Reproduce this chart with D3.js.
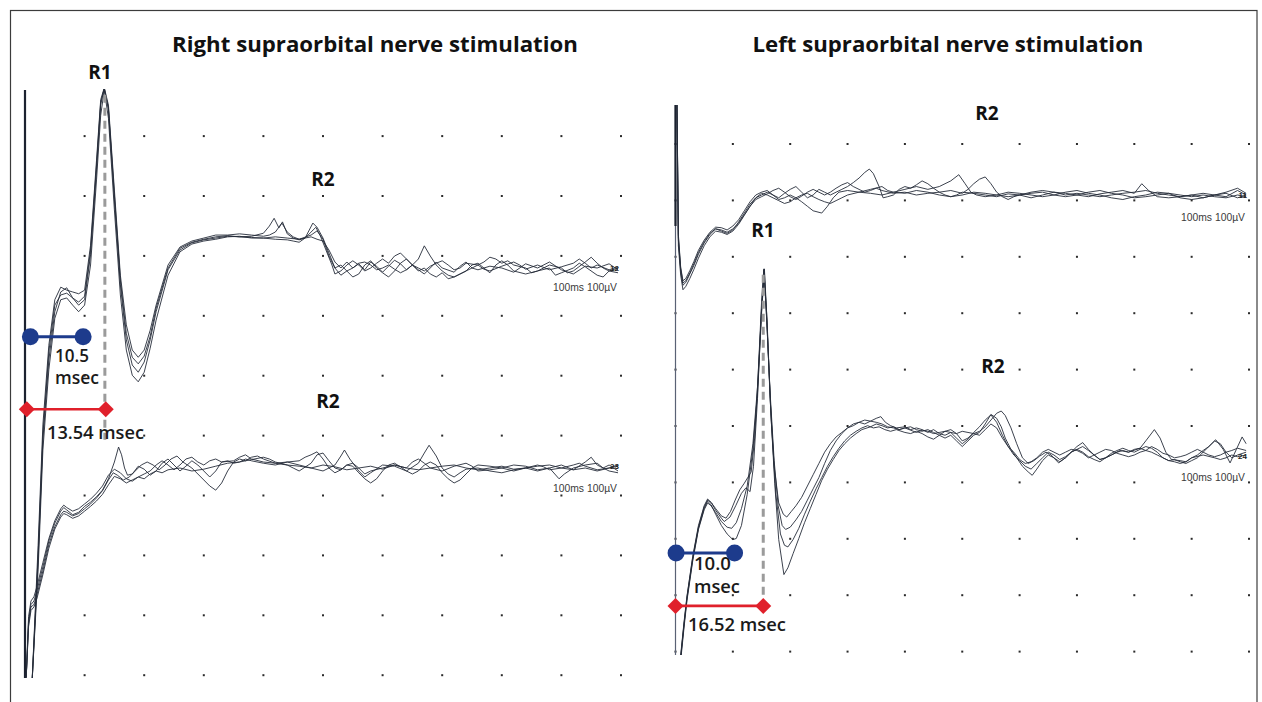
<!DOCTYPE html>
<html><head><meta charset="utf-8">
<script src="https://cdn.jsdelivr.net/npm/d3@7/dist/d3.min.js"></script>
<style>body{margin:0;background:#fff;}svg{display:block;}</style>
</head><body>
<svg id="chart" width="1262" height="702"></svg>
<script>
// ---------- DATA (time in ms, amplitude in µV; 10 ms/div, 100 µV/div) ----------
const panelTitles = ["Right supraorbital nerve stimulation", "Left supraorbital nerve stimulation"];
const sweepLabel = "100ms 100µV";
const responseLabels = [["R1","R2","R2"],["R2","R1","R2"]];
const traceTags = [["12","23"],["11","24"]];
const onsetLabels = [["10.5","msec"],["10.0","msec"]];
const latencyLabels = ["13.54 msec","16.52 msec"];
// annotation times (ms)
const onsetSpan = [[0.9, 9.75],[0.1, 10.3]];
const latencySpan = [[0.3, 13.55],[0.0, 15.3]];
const peakMarker = [13.4, 15.3];

// Right stimulation, ipsilateral (upper) channel
const LU1=[[1.2,-690],[2.2,-488],[3,-287],[4,-154],[5,-73],[6,-40],[7,-33],[8,-50],[9,-62],[10,-53],[11,22],[12,164],[12.7,272],[13.3,301],[14,264],[15,114],[16,-28],[17,-120],[18,-162],[19,-174],[20,-157],[21,-120],[22,-73],[24,-3],[26,30],[28,42],[30,47],[32,50],[34,53],[36,52],[38,53],[40,58],[41,70],[41.8,83],[42.6,67],[43.2,77],[44,57],[45,50],[46,47],[47,50],[48,52],[49,48],[50,45],[51,30],[52,10],[53,0],[54,10],[55,0],[56,7],[57,-3],[58,10],[59,3],[60,-7],[61,3],[62,13],[63,7],[64,-3],[65,5],[66,-3],[67,-10],[68,0],[69,10],[70,0],[72,-7],[73,3],[74,10],[75,0],[76,-3],[78,3],[80,0],[82,-7],[84,7],[86,0],[88,10],[90,-3],[92,-10],[94,3],[96,0],[98,7],[99.5,-3]];
const LU2=[[1.2,-688],[2.2,-504],[3,-304],[4,-170],[5,-84],[6,-53],[7,-50],[8,-62],[9,-73],[10,-62],[11,5],[12,147],[12.7,255],[13.3,297],[14,250],[15,97],[16,-45],[17,-137],[18,-179],[19,-190],[20,-174],[21,-134],[22,-87],[24,-12],[26,27],[28,40],[30,45],[32,48],[34,52],[36,53],[38,50],[40,50],[42,48],[44,47],[45,45],[46,43],[47,50],[48.3,75],[49,68],[50,50],[51,25],[52,0],[53,-12],[54,-5],[55,-15],[56,-10],[57,5],[58,12],[59,0],[60,-8],[61,-15],[62,-5],[63,8],[64,15],[65,5],[66,-5],[67,0],[68,-10],[69,-15],[70,-8],[71,-18],[72,-15],[74,-5],[75,5],[76,8],[77,0],[78,-8],[79,5],[80,12],[81,5],[82,-5],[84,-10],[86,-5],[88,0],[89,-12],[90,-8],[92,0],[93,8],[94,2],[96,-12],[97,-15],[98,-5],[99.5,-8]];
const LU3=[[1.2,-688],[2.2,-463],[3,-262],[4,-129],[5,-53],[6,-32],[7,-37],[8,-40],[9,-43],[10,-37],[11,38],[12,180],[12.7,281],[13.3,301],[14,272],[15,130],[16,-12],[17,-95],[18,-137],[19,-149],[20,-137],[21,-104],[22,-62],[24,5],[26,35],[28,45],[30,50],[32,55],[34,55],[36,57],[38,55],[40,53],[41,55],[42,60],[43.1,75],[44,60],[45,52],[46,48],[47,50],[48,60],[48.8,68],[49.5,55],[50.5,30],[51.5,5],[52,-10],[53,-5],[54,5],[55,12],[56,5],[57,-5],[58,0],[59,8],[60,15],[61,8],[62,20],[63,25],[64,15],[65,5],[66,15],[67,37],[68,20],[69,5],[70,-5],[71,-12],[72,-15],[73,-10],[74,-5],[75,0],[76,5],[77,10],[78,18],[79,15],[80,8],[81,12],[82,5],[84,0],[85,-8],[86,-5],[88,5],[90,0],[91,-8],[92,-5],[94,10],[95,18],[96,8],[97,0],[98,-5],[99.5,0]];
const LU4=[[1.2,-688],[2.2,-479],[3,-279],[4,-140],[5,-62],[6,-45],[7,-42],[8,-50],[9,-57],[10,-47],[11,30],[12,172],[12.7,277],[13.3,299],[14,267],[15,122],[16,-20],[17,-109],[18,-149],[19,-160],[20,-147],[21,-114],[22,-67],[24,0],[26,33],[28,43],[30,48],[32,52],[34,54],[36,52],[38,51],[40,50],[42,52],[44,50],[46,48],[48,55],[49,62],[50,48],[51,20],[52,0],[53,5],[54,-5],[55,0],[56,8],[57,10],[58,5],[59,-3],[60,0],[61,5],[62,-2],[63,-8],[64,-3],[65,5],[66,0],[67,-5],[68,3],[69,8],[70,12],[71,5],[72,-3],[73,0],[74,8],[76,5],[77,-2],[78,-5],[80,3],[82,10],[83,5],[84,-2],[86,5],[88,-3],[90,2],[92,8],[93,15],[94,8],[95,0],[96,5],[98,-3],[99.5,2]];
// Right stimulation, contralateral (lower) channel
const LL1=[[0.2,-350],[0.6,-255],[1,-228],[1.5,-222],[2,-205],[3,-165],[4,-122],[5,-92],[6,-72],[6.5,-66],[7,-70],[8,-78],[9,-74],[10,-64],[11,-57],[12,-48],[13,-37],[14,-18],[15,10],[15.7,35],[16.2,22],[16.7,0],[17.2,-12],[18,-10],[19,3],[20,-2],[21,-12],[22,-5],[23,8],[24,15],[25,5],[26,-5],[27,3],[28,12],[29,5],[30,-5],[31,-15],[32,-5],[33,10],[34,12],[35,8],[36,10],[37,15],[38,12],[40,8],[42,5],[44,10],[46,5],[48,0],[50,-5],[52,5],[53,20],[53.6,30],[54.5,15],[56,-5],[57,-15],[58,-8],[60,5],[62,3],[64,-5],[66,8],[67,25],[67.8,38],[69,20],[70,0],[71,-10],[72,-15],[73,-8],[74,-2],[76,0],[78,-5],[80,-8],[82,-3],[84,0],[86,-5],[88,0],[90,5],[92,-3],[94,10],[95,18],[96,5],[98,-5],[99.5,-8]];
const LL2=[[0.2,-350],[0.6,-260],[1,-232],[1.5,-228],[2,-212],[3,-172],[4,-128],[5,-98],[6,-78],[6.5,-72],[7,-74],[8,-80],[9,-76],[10,-68],[11,-60],[12,-50],[13,-38],[14,-20],[14.8,-8],[15.5,-12],[16.5,-20],[17.5,-15],[18.5,-5],[19.5,5],[20.5,10],[21.5,5],[22.5,-3],[23.5,5],[24.5,15],[25.5,20],[26.5,10],[28,0],[29,-10],[30,-20],[31,-30],[32,-37],[33,-25],[34,-5],[35,10],[36,15],[37,12],[38,18],[39,20],[40,15],[42,8],[44,10],[46,12],[47,18],[48,22],[49,27],[50,15],[51,0],[52,-8],[53,-3],[54,5],[55,8],[56,0],[57,-10],[58,-5],[60,0],[62,5],[64,0],[65,10],[66,15],[67,8],[68,0],[70,-5],[72,3],[74,8],[75,3],[76,-5],[78,-3],[80,0],[82,5],[84,3],[86,-3],[88,0],[89.6,-18],[90.5,-10],[92,0],[94,5],[96,8],[97,0],[98,5],[99.5,-5]];
const LL3=[[0.2,-350],[0.6,-248],[1,-222],[1.5,-215],[2,-198],[3,-158],[4,-118],[5,-88],[6,-68],[6.5,-62],[7,-66],[8,-72],[9,-68],[10,-60],[11,-52],[12,-42],[13,-30],[14,-12],[15,-2],[16,-8],[17,-18],[18,-22],[19,-15],[20,-10],[21,-5],[22,5],[23,12],[24,5],[25,-3],[26,5],[27,15],[28,18],[29,10],[30,5],[31,12],[32,15],[33,10],[35,12],[36,18],[37,22],[38,15],[40,10],[42,8],[44,5],[45,0],[46,-5],[48,8],[49,22],[50,25],[51,12],[52,0],[53,-3],[54,5],[55,3],[56,-8],[57,-18],[58,-25],[59,-18],[60,-5],[61,5],[62,8],[63,2],[64,-5],[65,-10],[66,-5],[67,5],[68,10],[69,5],[70,-8],[71,-18],[72,-25],[73,-20],[74,-10],[75,0],[76,5],[78,3],[80,0],[82,-5],[84,0],[86,5],[87,2],[88,-3],[90,0],[92,5],[93,8],[94,3],[96,-3],[98,0],[99.5,5]];
const LL4=[[0.2,-350],[0.6,-265],[1,-238],[1.5,-232],[2,-218],[3,-178],[4,-134],[5,-102],[6,-82],[6.5,-76],[7,-78],[8,-84],[9,-80],[10,-72],[11,-64],[12,-55],[13,-44],[14,-28],[15,-14],[16,-18],[17,-25],[18,-20],[19,-15],[20,-18],[21,-10],[22,-5],[23,-8],[24,-3],[26,0],[28,-5],[30,-2],[32,3],[34,8],[36,10],[38,14],[40,18],[41,15],[42,10],[44,5],[46,3],[48,0],[50,5],[52,2],[54,-3],[56,0],[58,3],[60,-2],[62,5],[64,0],[66,-3],[68,0],[70,3],[72,5],[74,0],[76,-3],[78,0],[80,3],[82,-2],[84,0],[86,3],[88,5],[90,0],[92,-3],[94,0],[96,-5],[98,0],[99.5,3]];
// Left stimulation, contralateral (upper) channel
const RU1=[[0,300],[0.25,170],[0.5,-80],[0.9,-135],[1.3,-160],[1.8,-155],[2.5,-140],[3.2,-125],[4,-105],[5,-85],[6,-70],[7,-60],[8,-62],[9,-66],[10,-60],[11,-50],[12,-35],[13,-20],[14,-5],[15,0],[16,5],[17,0],[18,-5],[19,3],[20,10],[21,15],[22,5],[23,-5],[24,0],[25,10],[26,5],[27,0],[28,5],[29,10],[30,15],[31,22],[32,30],[33,40],[33.8,46],[34.5,38],[35.5,15],[36.2,-5],[37,-3],[38,0],[39,10],[40,15],[41,12],[42,18],[43,25],[44,20],[45,12],[46,5],[47,0],[48,-3],[49,0],[50,5],[52,3],[54,0],[56,-3],[58,2],[60,0],[62,-5],[64,0],[66,5],[68,3],[70,0],[72,-3],[74,2],[76,5],[78,8],[80,3],[81.3,20],[82.5,8],[84,-3],[86,-5],[88,-3],[90,0],[92,-5],[94,0],[96,5],[98,12],[99.5,3]];
const RU2=[[0,300],[0.25,175],[0.5,-70],[0.9,-128],[1.3,-152],[1.8,-148],[2.5,-134],[3.2,-118],[4,-98],[5,-80],[6,-66],[7,-57],[8,-58],[9,-62],[10,-55],[11,-44],[12,-28],[13,-12],[14,0],[15,5],[16,8],[17,0],[18,-8],[19,-5],[20,0],[21,-5],[22,-12],[23,-20],[24,-28],[25.5,-32],[26.5,-20],[27.5,-5],[28.5,5],[30,8],[32,5],[34,10],[36,15],[37,8],[38,5],[40,10],[42,15],[44,10],[46,15],[48,25],[49.4,36],[50.5,20],[51.5,5],[52.5,0],[54,-3],[56,0],[58,5],[60,3],[62,0],[64,-3],[66,0],[68,5],[70,8],[72,3],[74,0],[76,-5],[78,-8],[80,-3],[82,0],[84,5],[86,3],[88,-5],[90,-8],[92,-5],[94,0],[96,3],[98,-5],[99.5,0]];
const RU3=[[0,300],[0.25,160],[0.5,-90],[0.9,-142],[1.3,-168],[1.8,-162],[2.5,-148],[3.2,-132],[4,-112],[5,-90],[6,-74],[7,-64],[8,-66],[9,-70],[10,-64],[11,-52],[12,-36],[13,-20],[14,-8],[15,-3],[16,2],[17,8],[18,12],[19,5],[20,-3],[21,-8],[22,-2],[23,5],[24,10],[25,5],[26,0],[27,5],[28,12],[29,18],[30,22],[31,15],[32,10],[33,5],[34,8],[35,12],[36,8],[38,3],[40,5],[42,0],[44,3],[46,5],[48,8],[50,3],[51,10],[52,20],[53,28],[54,32],[55,20],[56,5],[57,-3],[58,-8],[59,-3],[60,0],[62,3],[64,5],[66,0],[68,-3],[70,0],[72,5],[74,8],[76,3],[78,0],[80,-5],[82,-3],[84,0],[86,3],[88,0],[90,-3],[92,0],[94,-3],[96,-5],[98,0],[99.5,-3]];
const RU4=[[0,300],[0.25,168],[0.5,-75],[0.9,-130],[1.3,-156],[1.8,-152],[2.5,-138],[3.2,-122],[4,-102],[5,-83],[6,-68],[7,-60],[8,-64],[9,-68],[10,-62],[11,-48],[12,-32],[13,-16],[14,-5],[15,3],[16,0],[17,-5],[18,-10],[19,-15],[20,-12],[21,-5],[22,0],[23,3],[24,-3],[25,-8],[26,-12],[27,-15],[28,-10],[29,-5],[30,0],[32,5],[34,3],[36,0],[38,5],[40,3],[42,8],[44,5],[46,0],[48,-3],[50,0],[52,5],[54,3],[56,0],[58,-3],[60,0],[62,5],[64,8],[66,5],[68,0],[70,3],[72,0],[74,-3],[76,0],[78,3],[80,5],[82,8],[84,3],[86,0],[88,-3],[90,0],[92,3],[94,0],[96,-3],[98,8],[99.5,0]];
// Left stimulation, ipsilateral (lower) channel
const RL1=[[0.5,-400],[1,-350],[1.5,-300],[2,-255],[3,-185],[4,-130],[5,-95],[5.6,-82],[6.2,-88],[7,-105],[8,-125],[9,-140],[10,-150],[10.6,-148],[11.5,-125],[12.5,-70],[13.5,10],[14.3,110],[15,250],[15.5,330],[16,230],[16.6,80],[17.3,-50],[18,-150],[18.9,-212],[19.6,-200],[20.5,-175],[21.5,-148],[22.5,-120],[23.5,-95],[24.5,-70],[25.5,-45],[26.5,-25],[27.5,-8],[28.5,8],[29.5,20],[30.5,30],[31.5,38],[32.5,45],[34,50],[35,55],[36,52],[37,48],[38,50],[39,45],[40,48],[41,50],[42,45],[43,42],[44,45],[45,40],[46,35],[47,30],[48,35],[49,25],[50,15],[51,25],[52,35],[53,40],[54,55],[55,72],[56,65],[56.8,50],[57.5,30],[58.5,10],[59.5,-5],[60.5,-20],[61.5,-30],[62.2,-36],[63,-25],[64,-10],[65,0],[66,-5],[67,-12],[68,-5],[69,5],[70,10],[71,15],[72,8],[73,0],[74,-8],[75,-5],[76,0],[77,5],[78,8],[79,5],[80,10],[81,12],[82,8],[83,5],[84,0],[85,-5],[86,-10],[87,-12],[88,-15],[89,-12],[90,-5],[91,0],[92,8],[93,15],[94,25],[95,20],[96,5],[97,-5],[98,0],[99.5,5]];
const RL2=[[0.5,-400],[1,-345],[1.5,-295],[2,-250],[3,-180],[4,-125],[5,-90],[5.6,-78],[6.3,-85],[7,-98],[8,-112],[8.5,-118],[9.5,-110],[10.5,-90],[11.5,-68],[12.3,-58],[13,-65],[13.6,-20],[14.3,100],[15,260],[15.4,328],[15.9,250],[16.5,100],[17.2,-20],[18,-85],[18.8,-105],[19.4,-110],[20.2,-100],[21,-90],[22,-75],[23,-55],[24,-35],[25,-15],[26,5],[27,20],[28,32],[29,40],[30,48],[31,52],[32,58],[33,62],[34,60],[35,58],[36,55],[37,50],[38,48],[39,45],[40,48],[41,44],[42,40],[43,44],[44,42],[45,38],[46,40],[47,42],[48,40],[49,38],[50,42],[51,40],[52,38],[53,42],[54,50],[55,62],[56,74],[56.8,78],[57.5,70],[58.5,48],[59.5,20],[60.5,-5],[61.5,-15],[62.5,-10],[63.5,-2],[64.6,5],[65.5,0],[66.8,-14],[68,-5],[69,5],[70,15],[71,22],[72,10],[73,0],[74,-8],[75,-5],[76,0],[77.5,8],[79,5],[81,12],[82,25],[83.5,45],[84.5,30],[85.5,5],[86.5,-8],[88,-10],[89,-12],[90,-5],[92,0],[94,-5],[95,-8],[96,-5],[97,0],[98,-3],[99.5,0]];
const RL3=[[0.5,-400],[1,-355],[1.5,-305],[2,-258],[3,-188],[4,-132],[5,-97],[5.6,-85],[6.2,-90],[7,-102],[8,-118],[9,-128],[9.8,-130],[10.6,-120],[11.5,-95],[12.5,-55],[13.5,20],[14.3,120],[15,255],[15.5,325],[16,220],[16.7,60],[17.5,-70],[18.3,-140],[19,-160],[19.6,-163],[20.5,-150],[21.5,-130],[22.5,-105],[23.5,-82],[24.5,-60],[25.5,-40],[26.5,-20],[27.5,-3],[28.5,12],[29.5,25],[30.5,35],[31.5,42],[32.5,48],[33.5,52],[34.5,48],[35.5,50],[36.5,45],[37.5,42],[38.5,45],[40,40],[41,38],[42,42],[43,38],[44,32],[45,28],[46,35],[47,42],[48,45],[49,38],[50,25],[51,30],[52,40],[53,50],[54,62],[55,71],[56,58],[57,35],[58,15],[59,0],[60,-10],[61,-20],[62,-25],[63,-15],[64,-5],[65,5],[66,0],[67,-8],[68,-3],[69,5],[70,10],[71,5],[72,-3],[73,-8],[74,-12],[75,-5],[76,3],[77,8],[78,12],[79,8],[80,5],[81,10],[82,15],[83,12],[84,5],[85,-5],[86,-10],[87,-8],[88,-12],[89,-15],[90,-10],[91,-5],[92,5],[93,15],[94.2,27],[95.5,10],[96.7,-14],[97.8,10],[98.8,32],[99.5,20]];
const RL4=[[0.5,-400],[1,-348],[1.5,-298],[2,-252],[3,-182],[4,-128],[5,-92],[5.6,-80],[6.2,-84],[7,-95],[8,-108],[8.8,-112],[9.6,-100],[10.4,-80],[11.2,-62],[12,-50],[12.6,-40],[13.2,-30],[13.8,30],[14.4,140],[15,270],[15.4,330],[15.9,240],[16.5,110],[17.2,-10],[17.9,-90],[18.6,-125],[19.2,-132],[20,-128],[21,-115],[22,-100],[23,-80],[24,-60],[25,-40],[26,-15],[27,8],[28,25],[29,38],[30,48],[31,55],[32,58],[33,55],[34,60],[35,65],[35.8,68],[36.6,58],[37.5,52],[38.5,48],[40,50],[41,45],[42,48],[43,45],[44,40],[45,45],[46,38],[47,35],[48,40],[49,30],[50,20],[51,28],[52,38],[53,35],[54,45],[55,55],[56,48],[57,30],[58,15],[59,5],[60,-8],[61,-15],[62,-12],[63,-5],[64,5],[65,10],[66,5],[67,0],[68,5],[69,10],[70,8],[71,3],[72,-5],[73,0],[74,5],[75,10],[76,8],[77,3],[78,0],[79,-3],[80,0],[81,5],[82,8],[83,15],[84,10],[85,3],[86,0],[87,-5],[88,-3],[89,0],[90,5],[91,10],[92,5],[93,0],[94,-3],[95,0],[96,5],[97,8],[98,12],[99.5,8]];

// ---------- LAYOUT ----------
const panels = [
  {title: panelTitles[0], titleX: 375, titleW: 406, x0: 25, x1: 621, gTop: 76.2, gBot: 675.2, clipTop: 89, clipBot: 678,
   stim: [90, 678, 90],
   channels: [{base: 268, traces: [LU1,LU2,LU3,LU4], sweepY: 291, tagY: 271},
              {base: 468, traces: [LL1,LL2,LL3,LL4], sweepY: 492, tagY: 469}],
   labels: [[100,79],[323,186],[328,408]],
   onsetDiv: 4.35, latencyDiv: 5.56, peakDiv: [0.31, 6.07],
   onsetText: [[55,362,34],[55,384,44]], latencyText: [47,439,97]},
  {title: panelTitles[1], titleX: 948, titleW: 391, x0: 675.5, x1: 1249, gTop: 87.6, gBot: 651.6, clipTop: 105, clipBot: 655,
   stim: [105, 655, 226],
   channels: [{base: 195, traces: [RU1,RU2,RU3,RU4], sweepY: 221, tagY: 198},
              {base: 455, traces: [RL1,RL2,RL3,RL4], sweepY: 481, tagY: 459}],
   labels: [[987,120],[763,237],[993,373]],
   onsetDiv: 8.25, latencyDiv: 9.19, peakDiv: [3.32, 9.05],
   onsetText: [[694,570,37],[694,593,46]], latencyText: [688,631,98]}
];

const FONT = "'Open Sans','Noto Sans',sans-serif";
const svg = d3.select("#chart");
svg.append("rect").attr("width",1262).attr("height",702).attr("fill","#fff");
svg.append("rect").attr("x",10.5).attr("y",10.5).attr("width",1246.5).attr("height",720)
   .attr("fill","none").attr("stroke","#3c3c3c").attr("stroke-width",1.2);

function fit(sel, w){
  const n = sel.node(); const L = n.getComputedTextLength();
  if (L > 0) sel.attr("font-size", parseFloat(sel.attr("font-size")) * w / L);
  return sel;
}

panels.forEach((p, pi) => {
  const x = d3.scaleLinear().domain([0,100]).range([p.x0, p.x1]);
  const gy = d3.scaleLinear().domain([0,10]).range([p.gTop, p.gBot]);
  const divPx = (p.gBot - p.gTop) / 10;

  // title
  fit(svg.append("text").attr("x", p.titleX).attr("y", 52).attr("text-anchor","middle")
     .attr("font-family", FONT).attr("font-weight", 700).attr("font-size", 20).attr("fill","#111")
     .text(p.title), p.titleW);

  // grid dots
  const dots = [];
  for (let k = 0; k <= 10; k++) for (let j = 1; j <= 10; j++) dots.push([k*10, j]);
  svg.append("g").selectAll("rect").data(dots).join("rect")
     .attr("x", d => x(d[0]) - 1).attr("y", d => gy(d[1]) - 1)
     .attr("width", 2).attr("height", 2).attr("fill", "#2b2b2b");

  // stimulus marker line
  svg.append("line").attr("x1", x(0)).attr("x2", x(0)).attr("y1", p.stim[0]).attr("y2", p.stim[1])
     .attr("stroke", "#5a6275").attr("stroke-width", 1.2);
  svg.append("line").attr("x1", x(0)).attr("x2", x(0)).attr("y1", p.stim[0]).attr("y2", p.stim[0] === p.stim[2] ? p.stim[1] : p.stim[2])
     .attr("stroke", "#1c2230").attr("stroke-width", 2.2);

  // clip
  const cid = "clip" + pi;
  svg.append("clipPath").attr("id", cid).append("rect")
     .attr("x", x(0) - 2).attr("y", p.clipTop).attr("width", x(100) - x(0) + 6).attr("height", p.clipBot - p.clipTop);
  const tg = svg.append("g").attr("clip-path", `url(#${cid})`);

  p.channels.forEach((c, ci) => {
    const y = d3.scaleLinear().domain([0, 100]).range([c.base, c.base - divPx]);
    const line = d3.line().x(d => x(d[0])).y(d => y(d[1]));
    tg.selectAll(null).data(c.traces).join("path")
      .attr("d", line).attr("fill", "none").attr("stroke", "#262c3a")
      .attr("stroke-width", 0.9).attr("stroke-linejoin", "round");
    // sweep label & trace tag
    svg.append("text").attr("x", x(100) - 4).attr("y", c.sweepY).attr("text-anchor", "end")
       .attr("font-family", "'Liberation Sans','Roboto',sans-serif")
       .attr("font-size", 11).attr("fill", "#3a3a3a")
       .attr("textLength", 64).attr("lengthAdjust", "spacingAndGlyphs").text(sweepLabel);
    svg.append("text").attr("x", x(100) - 2).attr("y", c.tagY).attr("text-anchor", "end")
       .attr("font-family", "'Liberation Sans',sans-serif").attr("font-weight", 700)
       .attr("font-size", 8).attr("fill", "#222").text(traceTags[pi][ci]);
  });

  // response labels
  responseLabels[pi].forEach((t, i) => {
    svg.append("text").attr("x", p.labels[i][0]).attr("y", p.labels[i][1]).attr("text-anchor", "middle")
       .attr("font-family", FONT).attr("font-weight", 700).attr("font-size", 19).attr("fill", "#111").text(t);
  });

  // peak marker dashed line
  svg.append("line").attr("x1", x(peakMarker[pi])).attr("x2", x(peakMarker[pi]))
     .attr("y1", gy(p.peakDiv[0])).attr("y2", gy(p.peakDiv[1]))
     .attr("stroke", "#9b9b9b").attr("stroke-width", 3).attr("stroke-dasharray", "8,5");

  // onset (blue) dumbbell
  const oy = gy(p.onsetDiv);
  svg.append("line").attr("x1", x(onsetSpan[pi][0])).attr("x2", x(onsetSpan[pi][1])).attr("y1", oy).attr("y2", oy)
     .attr("stroke", "#1d3b8c").attr("stroke-width", 3);
  svg.selectAll(null).data(onsetSpan[pi]).join("circle")
     .attr("cx", d => x(d)).attr("cy", oy).attr("r", 8.5).attr("fill", "#1d3b8c");

  // latency (red) with diamonds
  const ly = gy(p.latencyDiv);
  svg.append("line").attr("x1", x(latencySpan[pi][0])).attr("x2", x(latencySpan[pi][1])).attr("y1", ly).attr("y2", ly)
     .attr("stroke", "#e0202b").attr("stroke-width", 2.6);
  svg.selectAll(null).data(latencySpan[pi]).join("path")
     .attr("d", d => { const cx = x(d); return `M${cx-8},${ly}L${cx},${ly-8}L${cx+8},${ly}L${cx},${ly+8}Z`; })
     .attr("fill", "#e0202b");

  // annotation texts
  onsetLabels[pi].forEach((t, i) => {
    const o = p.onsetText[i];
    fit(svg.append("text").attr("x", o[0]).attr("y", o[1]).attr("font-family", FONT).attr("font-weight", 600)
       .attr("font-size", 17).attr("fill", "#1a1a1a").text(t), o[2]);
  });
  const lt = p.latencyText;
  fit(svg.append("text").attr("x", lt[0]).attr("y", lt[1]).attr("font-family", FONT).attr("font-weight", 600)
     .attr("font-size", 17).attr("fill", "#1a1a1a").text(latencyLabels[pi]), lt[2]);
});
</script>
</body></html>
